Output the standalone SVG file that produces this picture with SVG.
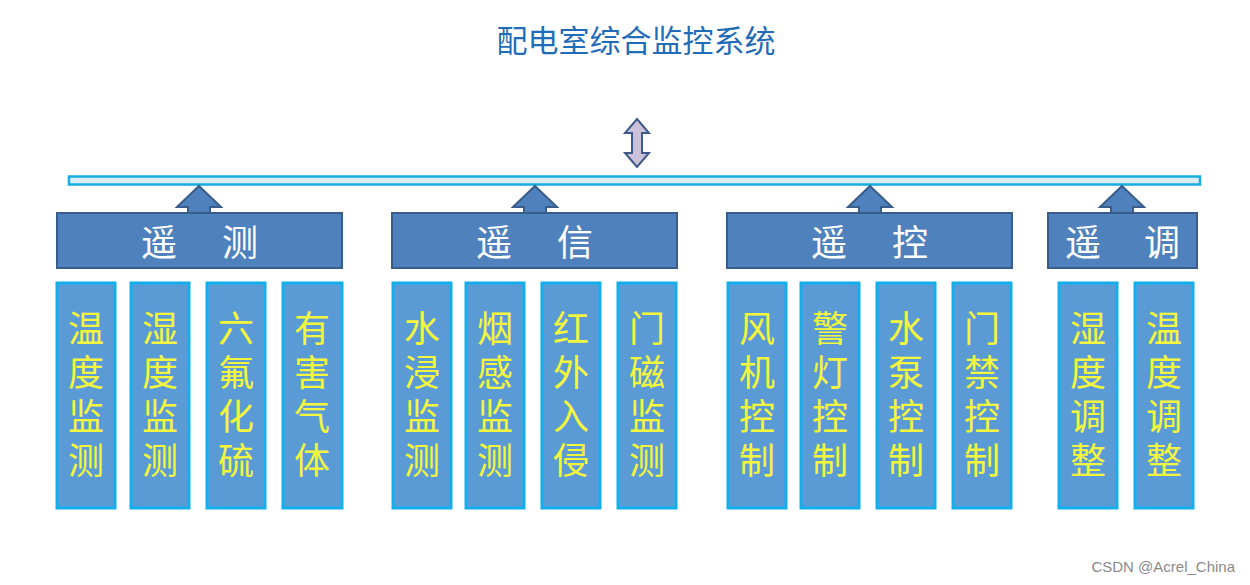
<svg xmlns="http://www.w3.org/2000/svg" width="1250" height="585" viewBox="0 0 1250 585">
<style>
.hdr{fill:#4f81bd;stroke:#385d8a;stroke-width:2}
.item{fill:#5b9bd5;stroke:#12afec;stroke-width:3}
.arr{fill:#4f81bd;stroke:#385d8a;stroke-width:2;stroke-linejoin:miter}
.ht{font-family:"Noto Sans CJK SC",sans-serif;font-size:36px;fill:#ffffff;text-anchor:middle;dominant-baseline:central}
.it{font-family:"Noto Sans CJK SC",sans-serif;font-size:36px;fill:#f3f63c;writing-mode:vertical-rl;text-orientation:upright;letter-spacing:8px;text-anchor:start}
</style>
<rect width="1250" height="585" fill="#ffffff"/>
<text x="636" y="38" font-family="'Noto Sans CJK SC',sans-serif" font-size="31" fill="#1f6cb8" text-anchor="middle" dominant-baseline="central">配电室综合监控系统</text>
<g id="connectors">
<path d="M637,119 L649,133 L642,133 L642,153 L649,153 L637,167 L625,153 L632,153 L632,133 L625,133 Z" fill="#ccc1da" stroke="#3f5a8a" stroke-width="2"/>
<rect id="bus" x="69" y="176.5" width="1131" height="8" fill="#dbeef5" stroke="#17ace2" stroke-width="2.5"/>
<path class="arr" d="M199,186 L221,207 L210,207 L210,214 L188,214 L188,207 L177,207 Z"/>
<path class="arr" d="M535,186 L557,207 L546,207 L546,214 L524,214 L524,207 L513,207 Z"/>
<path class="arr" d="M870,186 L892,207 L881,207 L881,214 L859,214 L859,207 L848,207 Z"/>
<path class="arr" d="M1122,186 L1144,207 L1133,207 L1133,214 L1111,214 L1111,207 L1100,207 Z"/>
</g>
<g id="g-yaoce">
<rect class="hdr" x="57" y="213" width="285" height="55"/>
<text class="ht" x="159" y="240">遥</text><text class="ht" x="240" y="240">测</text>
</g>
<g id="g-yaoxin">
<rect class="hdr" x="392" y="213" width="285" height="55"/>
<text class="ht" x="494" y="240">遥</text><text class="ht" x="575" y="240">信</text>
</g>
<g id="g-yaokong">
<rect class="hdr" x="727" y="213" width="285" height="55"/>
<text class="ht" x="829" y="240">遥</text><text class="ht" x="910" y="240">控</text>
</g>
<g id="g-yaotiao">
<rect class="hdr" x="1048" y="213" width="149" height="55"/>
<text class="ht" x="1083" y="240">遥</text><text class="ht" x="1162" y="240">调</text>
</g>
<g id="n1"><rect class="item" x="57" y="283" width="58" height="225"/><text class="it" x="86" y="310">温度监测</text></g>
<g id="n2"><rect class="item" x="131" y="283" width="58" height="225"/><text class="it" x="160" y="310">湿度监测</text></g>
<g id="n3"><rect class="item" x="207" y="283" width="58" height="225"/><text class="it" x="236" y="310">六氟化硫</text></g>
<g id="n4"><rect class="item" x="283" y="283" width="59" height="225"/><text class="it" x="312" y="310">有害气体</text></g>
<g id="n5"><rect class="item" x="393" y="283" width="58" height="225"/><text class="it" x="422" y="310">水浸监测</text></g>
<g id="n6"><rect class="item" x="466" y="283" width="58" height="225"/><text class="it" x="495" y="310">烟感监测</text></g>
<g id="n7"><rect class="item" x="542" y="283" width="58" height="225"/><text class="it" x="571" y="310">红外入侵</text></g>
<g id="n8"><rect class="item" x="618" y="283" width="58" height="225"/><text class="it" x="647" y="310">门磁监测</text></g>
<g id="n9"><rect class="item" x="728" y="283" width="58" height="225"/><text class="it" x="757" y="310">风机控制</text></g>
<g id="n10"><rect class="item" x="801" y="283" width="58" height="225"/><text class="it" x="830" y="310">警灯控制</text></g>
<g id="n11"><rect class="item" x="877" y="283" width="58" height="225"/><text class="it" x="906" y="310">水泵控制</text></g>
<g id="n12"><rect class="item" x="953" y="283" width="58" height="225"/><text class="it" x="982" y="310">门禁控制</text></g>
<g id="n13"><rect class="item" x="1059" y="283" width="58" height="225"/><text class="it" x="1088" y="310">湿度调整</text></g>
<g id="n14"><rect class="item" x="1135" y="283" width="58" height="225"/><text class="it" x="1164" y="310">温度调整</text></g>
<text x="1235" y="572" font-family="'Liberation Sans',sans-serif" font-size="15" fill="#8a8a8a" text-anchor="end">CSDN @Acrel_China</text>
</svg>
